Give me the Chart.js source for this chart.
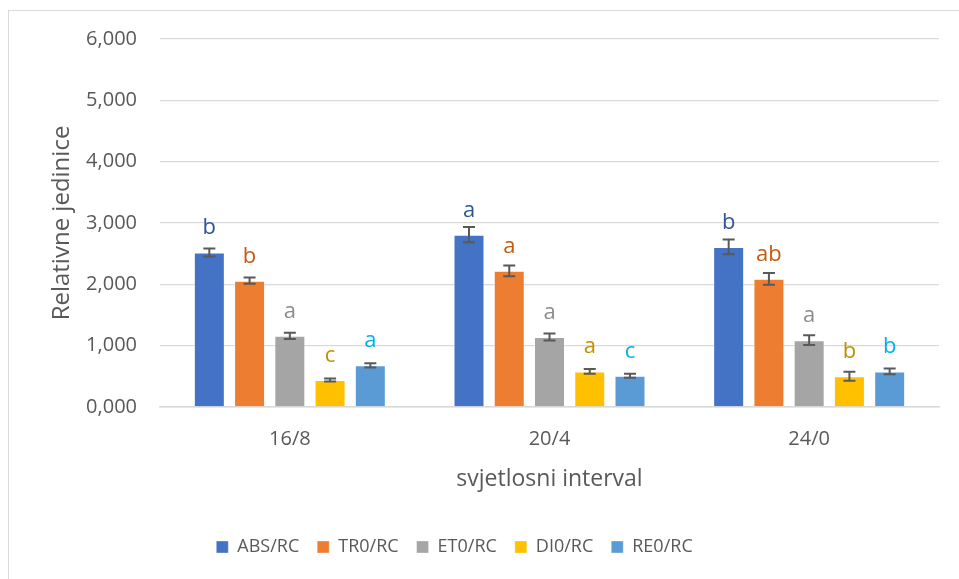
<!DOCTYPE html>
<html>
<head>
<meta charset="utf-8">
<script src="https://cdn.jsdelivr.net/npm/chart.js@4/dist/chart.umd.min.js"></script>
<style>
    html, body { margin: 0; padding: 0; background: #fff; overflow: hidden; }
    #okvir {
        position: absolute; left: 8px; top: 10px; width: 960px; height: 580px;
        border: 1px solid #d9d9d9;
    }
    #wrap { position: absolute; left: 9px; top: 11px; width: 950px; height: 568px; }
</style>
</head>
<body>
<div id="okvir"></div>
<div id="wrap"><canvas id="barCanvas" aria-label="chart" role="img"></canvas></div>
<script>
// podaci ocitani sa grafa
const intervali = ['16/8', '20/4', '24/0'];
const serije = ['ABS/RC', 'TR0/RC', 'ET0/RC', 'DI0/RC', 'RE0/RC'];

const absRC = [2.52, 2.81, 2.61];
const tr0RC = [2.06, 2.22, 2.09];
const et0RC = [1.16, 1.14, 1.09];
const di0RC = [0.44, 0.58, 0.50];
const re0RC = [0.68, 0.51, 0.58];

const absErr = [0.065, 0.125, 0.12];
const tr0Err = [0.05, 0.087, 0.095];
const et0Err = [0.05, 0.057, 0.079];
const di0Err = [0.025, 0.038, 0.074];
const re0Err = [0.035, 0.033, 0.046];

// slova znacajnosti
const absSlova = ['b', 'a', 'b'];
const tr0Slova = ['b', 'a', 'ab'];
const et0Slova = ['a', 'a', 'a'];
const di0Slova = ['c', 'a', 'b'];
const re0Slova = ['a', 'c', 'b'];

const yTicks = [0, 1, 2, 3, 4, 5, 6];

const boje = ['#4472C4', '#ED7D31', '#A5A5A5', '#FFC000', '#5B9BD5'];
const bojeSlova = ['#2F5597', '#C55A11', '#8C8C8C', '#BF9000', '#00B0F0'];

const vrijednosti = [absRC, tr0RC, et0RC, di0RC, re0RC];
const greske = [absErr, tr0Err, et0Err, di0Err, re0Err];
const slova = [absSlova, tr0Slova, et0Slova, di0Slova, re0Slova];

Chart.defaults.font.family = "'Open Sans', sans-serif";
Chart.defaults.font.size = 20;
Chart.defaults.color = '#595959';

// error bars i slova iznad stupaca
const errorBarPlugin = {
    id: 'errorBars',
    afterDatasetsDraw(chart) {
        const ctx = chart.ctx;
        const y = chart.scales.y;
        ctx.save();
        chart.data.datasets.forEach((ds, i) => {
            const meta = chart.getDatasetMeta(i);
            meta.data.forEach((bar, j) => {
                const v = ds.data[j];
                const e = greske[i][j];
                const top = y.getPixelForValue(v + e);
                const bot = y.getPixelForValue(v - e);
                ctx.strokeStyle = '#595959';
                ctx.lineWidth = 2;
                ctx.beginPath();
                ctx.moveTo(bar.x, top);
                ctx.lineTo(bar.x, bot);
                ctx.moveTo(bar.x - 6, top);
                ctx.lineTo(bar.x + 6, top);
                ctx.moveTo(bar.x - 6, bot);
                ctx.lineTo(bar.x + 6, bot);
                ctx.stroke();

                ctx.fillStyle = bojeSlova[i];
                ctx.font = "22px 'Open Sans', sans-serif";
                ctx.textAlign = 'center';
                ctx.textBaseline = 'alphabetic';
                ctx.fillText(slova[i][j], bar.x, bar.y - 18);
            });
        });
        ctx.restore();
    }
};

// legenda je u Excelu malo lijevo od sredine
const legendShift = {
    id: 'legendShift',
    afterLayout(chart) {
        const lg = chart.legend;
        const dx = -39;
        lg.left += dx;
        lg.right += dx;
        const h = lg.height;
        lg.top = 509;
        lg.bottom = lg.top + h;
    }
};

const barCanvas = document.getElementById('barCanvas');
const barChart = new Chart(barCanvas, {
    type: 'bar',
    data: {
        labels: intervali,
        datasets: serije.map((s, i) => ({
            label: s,
            data: vrijednosti[i],
            backgroundColor: boje[i],
            borderColor: 'rgba(255,255,255,0.35)',
            borderWidth: 1,
            categoryPercentage: 0.775,
            barPercentage: 0.77
        }))
    },
    options: {
        responsive: true,
        maintainAspectRatio: false,
        animation: false,
        layout: { padding: { left: 39, right: 20, top: 28, bottom: 26 } },
        plugins: {
            legend: {
                position: 'bottom',
                labels: { boxWidth: 12, boxHeight: 12, padding: 18, color: '#595959', font: { size: 18 } }
            },
            tooltip: { enabled: false }
        },
        scales: {
            x: {
                grid: { display: false, drawTicks: false },
                border: { display: true, color: '#d9d9d9', width: 1.5 },
                ticks: { padding: 20 },
                title: { display: true, text: 'svjetlosni interval', font: { size: 23 }, padding: { top: 0, bottom: 14 } },
                afterFit: (s) => { s.height = 100; }
            },
            y: {
                min: 0,
                max: 6,
                afterBuildTicks: (s) => { s.ticks = yTicks.map(v => ({ value: v })); },
                grid: { color: '#d9d9d9', lineWidth: 1.3, drawTicks: false },
                border: { display: false },
                ticks: {
                    padding: 23,
                    callback: (v) => v.toFixed(3).replace('.', ',')
                },
                title: { display: true, text: 'Relativne jedinice', font: { size: 24 }, padding: 0 },
                afterFit: (s) => {
                    s.width = 112;
                    s.paddingTop = 0;
                    s.paddingBottom = 0;
                }
            }
        }
    },
    plugins: [errorBarPlugin, legendShift]
});
</script>
</body>
</html>
